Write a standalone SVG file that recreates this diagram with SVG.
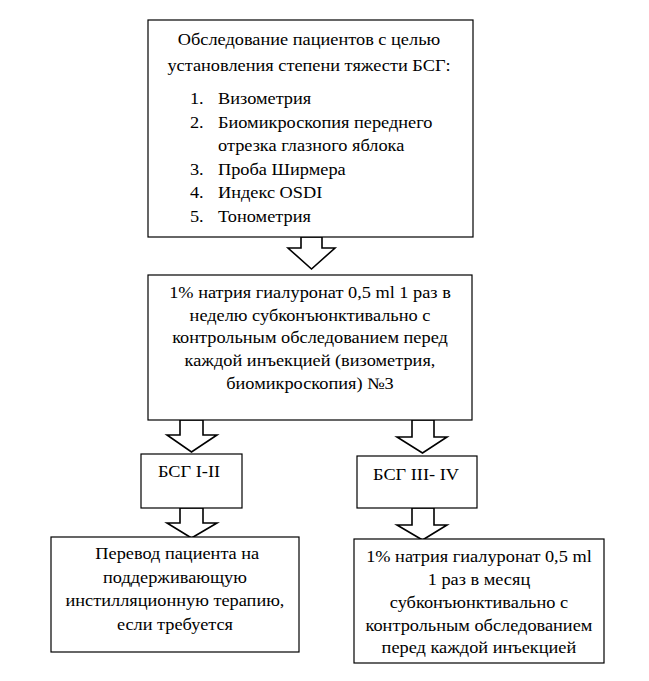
<svg xmlns="http://www.w3.org/2000/svg" width="649" height="681" viewBox="0 0 649 681">
<style>
.box{fill:#fff;stroke:#000;stroke-width:1.2}
.arr{fill:#fff;stroke:#000;stroke-width:1.6;stroke-linejoin:miter}
.t{font-family:'Liberation Serif','DejaVu Serif',serif;font-size:16px;fill:#000}
.c{text-anchor:middle}
</style>
<rect width="649" height="681" fill="#fff"/>
<g id="connectors">
<polygon class="arr" points="301,237 322,237 322,248 335,248 311.5,269 288,248 301,248"/>
<polygon class="arr" points="180,420 203,420 203,435 217,435 191.5,452 167,435 180,435"/>
<polygon class="arr" points="180,508 203,508 203,523 217,523 191.5,538 167,523 180,523"/>
<polygon class="arr" points="412,420 434,420 434,437 447,437 422.5,453 397,437 412,437"/>
<polygon class="arr" points="412,508 434,508 434,525 447,525 422.5,540 397,525 412,525"/>
</g>
<g class="t">
<g id="exam">
<rect class="box" x="148" y="20" width="325" height="217"/>
<g transform="matrix(1.145 0 0 1 -44.8 0)">
<text class="c" x="309" y="45">Обследование пациентов с целью</text>
<text class="c" x="309" y="71">установления степени тяжести БСГ:</text>
</g>
<g transform="matrix(1.145 0 0 1 -31.6 0)">
<text x="193.5" y="104">1.</text><text x="218" y="104">Визометрия</text>
<text x="193.5" y="128">2.</text><text x="218" y="128">Биомикроскопия переднего</text>
<text x="218" y="151">отрезка глазного яблока</text>
<text x="193.5" y="175">3.</text><text x="218" y="175">Проба Ширмера</text>
<text x="193.5" y="198">4.</text><text x="218" y="198">Индекс OSDI</text>
<text x="193.5" y="222">5.</text><text x="218" y="222">Тонометрия</text>
</g>
</g>
<g id="weekly">
<rect class="box" x="148" y="275" width="324" height="145"/>
<g transform="matrix(1.145 0 0 1 -44.95 0)">
<text class="c" x="310" y="298">1% натрия гиалуронат 0,5 ml 1 раз в</text>
<text class="c" x="310" y="321">неделю субконъюнктивально с</text>
<text class="c" x="310" y="343.5">контрольным обследованием перед</text>
<text class="c" x="310" y="366">каждой инъекцией (визометрия,</text>
<text class="c" x="310" y="389">биомикроскопия) №3</text>
</g>
</g>
<g id="mild">
<rect class="box" x="141" y="454" width="101" height="54"/>
<g transform="matrix(1.145 0 0 1 -27.4 0)">
<text class="c" x="189" y="477">БСГ I-II</text>
</g>
</g>
<g id="severe">
<rect class="box" x="357" y="456" width="120" height="52"/>
<g transform="matrix(1.145 0 0 1 -60.3 0)">
<text class="c" x="416" y="480">БСГ III- IV</text>
</g>
</g>
<g id="maintenance">
<rect class="box" x="51" y="537" width="248" height="115"/>
<g transform="matrix(1.145 0 0 1 -25.4 0)">
<text class="c" x="177" y="559">Перевод пациента на</text>
<text class="c" x="175" y="583">поддерживающую</text>
<text class="c" x="175" y="606">инстилляционную терапию,</text>
<text class="c" x="175" y="630">если требуется</text>
</g>
</g>
<g id="monthly">
<rect class="box" x="354" y="539" width="250" height="124"/>
<g transform="matrix(1.145 0 0 1 -69.5 0)">
<text class="c" x="479" y="562">1% натрия гиалуронат 0,5 ml</text>
<text class="c" x="479" y="585">1 раз в месяц</text>
<text class="c" x="479" y="608">субконъюнктивально с</text>
<text class="c" x="479" y="631">контрольным обследованием</text>
<text class="c" x="479" y="653">перед каждой инъекцией</text>
</g>
</g>
</g>
</svg>
